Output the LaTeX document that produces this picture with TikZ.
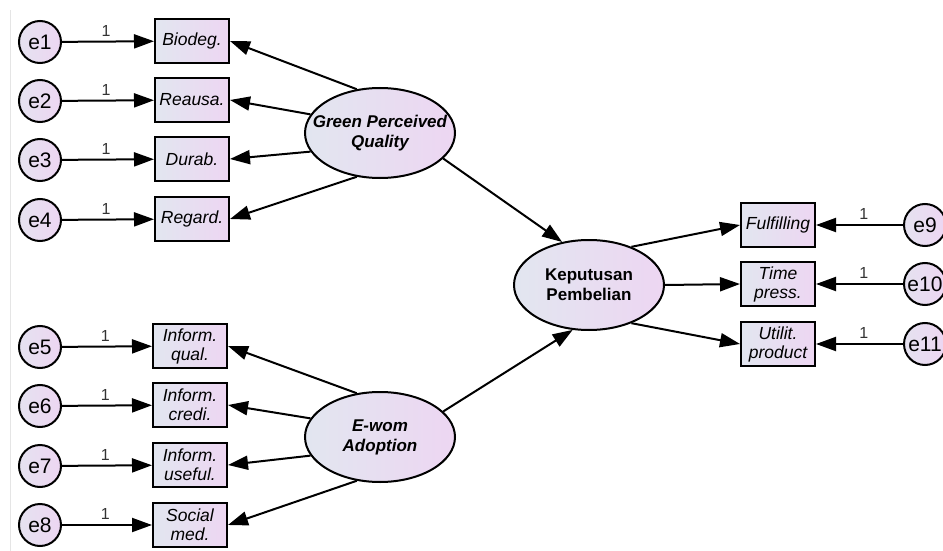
\documentclass[tikz,border=0pt]{standalone}
\usepackage{fontspec}
\setmainfont{Liberation Sans}
\usetikzlibrary{shapes.geometric,arrows.meta}
\definecolor{fillL}{HTML}{E2E6F0}
\definecolor{fillR}{HTML}{EDD6F2}
\definecolor{errfill}{HTML}{EADCF0}
\definecolor{onecol}{HTML}{333333}
\newcommand{\zbox}[1]{\makebox[0pt][c]{#1}}
\begin{document}
\begin{tikzpicture}[x=1pt,y=-1pt,
  obs/.style={draw,line width=2pt,minimum width=74pt,minimum height=44pt,inner sep=0pt,
    left color=fillL,right color=fillR,font=\fontsize{17.5}{19}\selectfont\itshape,align=center},
  lat/.style={draw,ellipse,line width=2pt,minimum width=150pt,minimum height=90pt,inner sep=0pt,
    left color=fillL,right color=fillR,font=\fontsize{17}{20}\selectfont\bfseries,align=center},
  err/.style={draw,circle,line width=2pt,minimum size=42pt,inner sep=0pt,
    left color=fillL!60!errfill,right color=fillR,font=\fontsize{21}{22}\selectfont},
  arr/.style={line width=2pt,-{Triangle[length=20pt,width=14pt]}},
  one/.style={font=\fontsize{16}{16}\selectfont,text=onecol}]
\useasboundingbox (0,0) rectangle (943,551);
\begin{scope}
\clip (0,0) rectangle (943,551);
\draw[gray!20,line width=1pt] (10,10) -- (10,551);
% latent
\node[lat] (gpq) at (380,133) {\zbox{\itshape Green Perceived}\\\zbox{\itshape Quality}};
\node[lat] (ewa) at (380,437) {\zbox{\itshape E-wom}\\\zbox{\itshape Adoption}};
\node[lat] (kp) at (589,285) {\zbox{Keputusan}\\\zbox{Pembelian}};
% left observed
\node[obs] (b1) at (192,41) {Biodeg.};
\node[obs] (b2) at (192,100) {Reausa.};
\node[obs] (b3) at (192,159) {Durab.};
\node[obs] (b4) at (192,219) {Regard.};
\node[obs] (b5) at (190,346) {Inform.\\qual.};
\node[obs] (b6) at (190,405) {Inform.\\credi.};
\node[obs] (b7) at (190,465) {Inform.\\useful.};
\node[obs] (b8) at (190,525) {Social\\med.};
% right observed
\node[obs] (b9) at (778,225) {Fulfilling};
\node[obs] (b10) at (778,284) {Time\\press.};
\node[obs] (b11) at (778,344) {Utilit.\\product};
% errors
\node[err] (e1) at (40,42) {e1};
\node[err] (e2) at (40,101) {e2};
\node[err] (e3) at (40,160) {e3};
\node[err] (e4) at (40,220) {e4};
\node[err] (e5) at (40,347) {e5};
\node[err] (e6) at (40,406) {e6};
\node[err] (e7) at (40,466) {e7};
\node[err] (e8) at (40,525) {e8};
\node[err] (e9) at (925,225) {e9};
\node[err] (e10) at (925,284) {e10};
\node[err] (e11) at (925,344) {e11};
% error arrows
\foreach \i in {1,...,8}{
  \draw[arr] (e\i) -- (b\i) node[one,pos=0.48,above=1pt] {1};
}
\foreach \i in {9,10,11}{
  \draw[arr] (e\i) -- (b\i) node[one,pos=0.45,above=1pt] {1};
}
% loadings
\draw[arr] (gpq.118) -- (b1.east);
\draw[arr] (gpq.165) -- (b2.east);
\draw[arr] (gpq.195) -- (b3.east);
\draw[arr] (gpq.242) -- (b4.east);
\draw[arr] (ewa.118) -- (b5.east);
\draw[arr] (ewa.165) -- (b6.east);
\draw[arr] (ewa.195) -- (b7.east);
\draw[arr] (ewa.242) -- (b8.east);
\draw[arr] (kp.42) -- (b9.west);
\draw[arr] (kp.east) -- (b10.west);
\draw[arr] (kp.-42) -- (b11.west);
% structural
\draw[arr] (gpq.-22) -- (kp.122);
\draw[arr] (ewa.22) -- (kp.-110);
\end{scope}
\end{tikzpicture}
\end{document}
